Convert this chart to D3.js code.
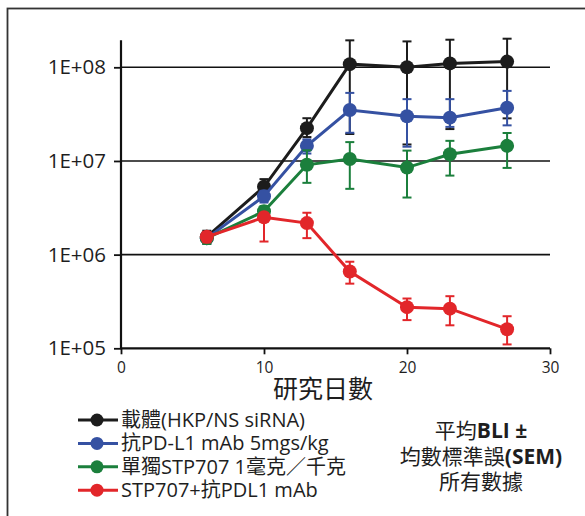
<!DOCTYPE html>
<html lang="zh-Hant">
<head>
<meta charset="UTF-8">
<title>BLI</title>
<script src="https://d3js.org/d3.v7.min.js"></script>
<style>
  body { margin: 0; background: #fff; }
  text { font-family: "Open Sans", "Noto Sans CJK TC", sans-serif; fill: #1e1e1e; }
</style>
</head>
<body>
<script>
// study days
var days = [6, 10, 13, 16, 20, 23, 27];

// mean BLI per group, with upper / lower error bar ends (SEM)
var vehicle      = [1.55e6, 5.3e6, 2.24e7, 1.08e8, 1.0e8, 1.1e8, 1.15e8];
var vehicleHi    = [1.8e6, 6.4e6, 2.86e7, 1.94e8, 1.89e8, 1.97e8, 2.02e8];
var vehicleLo    = [1.35e6, 4.5e6, 1.8e7, 1.94e7, 1.5e7, 2.19e7, 2.85e7];

var antiPdl1     = [1.5e6, 4.2e6, 1.45e7, 3.5e7, 3.0e7, 2.9e7, 3.7e7];
var antiPdl1Hi   = [1.7e6, 4.8e6, 1.7e7, 5.33e7, 4.57e7, 4.57e7, 5.6e7];
var antiPdl1Lo   = [1.3e6, 3.6e6, 1.2e7, 2.0e7, 1.42e7, 2.31e7, 2.4e7];

var stp707       = [1.5e6, 2.9e6, 9.1e6, 1.05e7, 8.5e6, 1.18e7, 1.45e7];
var stp707Hi     = [1.7e6, 3.3e6, 1.3e7, 1.59e7, 1.29e7, 1.64e7, 1.99e7];
var stp707Lo     = [1.3e6, 2.5e6, 5.84e6, 5.04e6, 4.07e6, 6.98e6, 8.43e6];

var combo        = [1.55e6, 2.5e6, 2.17e6, 6.6e5, 2.75e5, 2.65e5, 1.6e5];
var comboHi      = [1.75e6, 2.8e6, 2.8e6, 8.4e5, 3.4e5, 3.6e5, 2.2e5];
var comboLo      = [1.35e6, 1.38e6, 1.5e6, 4.9e5, 2.0e5, 1.76e5, 1.1e5];

var seriesNames  = ["載體(HKP/NS siRNA)", "抗PD-L1 mAb 5mgs/kg", "單獨STP707 1毫克／千克", "STP707+抗PDL1 mAb"];
var seriesColors = ["#1c1c1c", "#3551a2", "#1b7f3c", "#e2262a"];

var xTicks = [0, 10, 20, 30];
var yTicks = [1e5, 1e6, 1e7, 1e8];
var yTickLabels = ["1E+05", "1E+06", "1E+07", "1E+08"];

var series = [
  { name: seriesNames[0], color: seriesColors[0], v: vehicle,  hi: vehicleHi,  lo: vehicleLo },
  { name: seriesNames[1], color: seriesColors[1], v: antiPdl1, hi: antiPdl1Hi, lo: antiPdl1Lo },
  { name: seriesNames[2], color: seriesColors[2], v: stp707,   hi: stp707Hi,   lo: stp707Lo },
  { name: seriesNames[3], color: seriesColors[3], v: combo,    hi: comboHi,    lo: comboLo }
];

var svg = d3.select("body").append("svg")
    .attr("width", 585)
    .attr("height", 516);

// chart border (runs off the right / bottom edge)
svg.append("rect")
    .attr("x", 7.5).attr("y", 8.5)
    .attr("width", 640).attr("height", 600)
    .attr("fill", "none")
    .attr("stroke", "#333")
    .attr("stroke-width", 1.8);

var x = d3.scaleLinear().domain([0, 30]).range([121, 550]);
var y = d3.scaleLog().domain([1e5, 1e8]).range([348.3, 67.3]);

// gridlines
svg.append("g").selectAll("line")
    .data(yTicks.slice(1))
    .enter().append("line")
    .attr("x1", x(0)).attr("x2", x(30))
    .attr("y1", d => y(d)).attr("y2", d => y(d))
    .attr("stroke", "#111")
    .attr("stroke-width", 1.6);

// y axis
var yAxis = svg.append("g")
    .attr("transform", "translate(" + x(0) + ",0)")
    .call(d3.axisLeft(y).tickValues(yTicks)
        .tickFormat((d, i) => yTickLabels[i]).tickSize(7).tickPadding(8));
yAxis.select(".domain").remove();
yAxis.selectAll("line").attr("stroke", "#111").attr("stroke-width", 1.8);
yAxis.selectAll("text").style("font-size", "20.5px").attr("fill", "#1e1e1e")
    .attr("font-family", "Open Sans");
svg.append("line")
    .attr("x1", x(0)).attr("x2", x(0))
    .attr("y1", y(1.95e8)).attr("y2", y(1e5) + 1)
    .attr("stroke", "#111").attr("stroke-width", 2.2);

// x axis
var xAxis = svg.append("g")
    .attr("transform", "translate(0," + y(1e5) + ")")
    .call(d3.axisBottom(x).tickValues(xTicks).tickSize(6).tickPadding(8));
xAxis.select(".domain").attr("stroke", "#111").attr("stroke-width", 2.2)
    .attr("d", "M" + x(0) + ",0H" + x(30));
xAxis.selectAll("line").attr("stroke", "#111").attr("stroke-width", 1.8);
xAxis.selectAll("text").style("font-size", "15.5px").attr("fill", "#1e1e1e")
    .attr("font-family", "Open Sans");

svg.append("text")
    .attr("x", 323).attr("y", 398)
    .attr("text-anchor", "middle")
    .style("font-size", "25px")
    .text("研究日數");

// series
var line = d3.line()
    .x((d, i) => x(days[i]))
    .y(d => y(d));

series.forEach(function (s) {
  var g = svg.append("g");
  var pts = days.map((d, i) => ({ day: d, v: s.v[i], hi: s.hi[i], lo: s.lo[i] }));

  g.selectAll(".err").data(pts).enter().append("line")
      .attr("x1", d => x(d.day)).attr("x2", d => x(d.day))
      .attr("y1", d => y(d.hi)).attr("y2", d => y(d.lo))
      .attr("stroke", s.color).attr("stroke-width", 2);
  ["hi", "lo"].forEach(function (k) {
    g.selectAll(".cap-" + k).data(pts).enter().append("line")
        .attr("x1", d => x(d.day) - 4.5).attr("x2", d => x(d.day) + 4.5)
        .attr("y1", d => y(d[k])).attr("y2", d => y(d[k]))
        .attr("stroke", s.color).attr("stroke-width", 2);
  });

  g.append("path")
      .attr("d", line(s.v))
      .attr("fill", "none")
      .attr("stroke", s.color)
      .attr("stroke-width", 3);

  g.selectAll("circle").data(pts).enter().append("circle")
      .attr("cx", d => x(d.day)).attr("cy", d => y(d.v))
      .attr("r", 7)
      .attr("fill", s.color);
});

// legend
var legend = svg.append("g").selectAll("g")
    .data(series)
    .enter().append("g")
    .attr("transform", (d, i) => "translate(0," + (420 + i * 23.4) + ")");
legend.append("line")
    .attr("x1", 78).attr("x2", 118)
    .attr("stroke", d => d.color).attr("stroke-width", 3);
legend.append("circle")
    .attr("cx", 97).attr("r", 6.5)
    .attr("fill", d => d.color);
legend.append("text")
    .attr("x", 121).attr("y", 7)
    .style("font-size", "20px")
    .text(d => d.name);

// note
var note = svg.append("text")
    .attr("text-anchor", "middle")
    .style("font-size", "21px");
var n1 = note.append("tspan").attr("x", 481).attr("y", 438);
n1.append("tspan").text("平均");
n1.append("tspan").attr("font-weight", "bold").text("BLI ±");
var n2 = note.append("tspan").attr("x", 481).attr("y", 464);
n2.append("tspan").text("均數標準誤");
n2.append("tspan").attr("font-weight", "bold").text("(SEM)");
note.append("tspan").attr("x", 481).attr("y", 489).text("所有數據");
</script>
</body>
</html>
